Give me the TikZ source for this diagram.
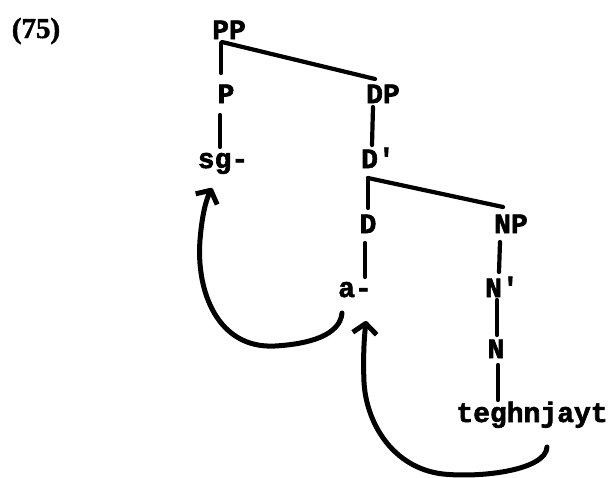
\documentclass[tikz,border=0pt]{standalone}
\usepackage{fontspec}
\newfontfamily\treefont{Liberation Mono}[BoldFeatures={FakeBold=2.2}]
\newfontfamily\exfont{Liberation Serif}[BoldFeatures={FakeBold=1.5}]
\usetikzlibrary{arrows.meta}
\begin{document}
\begin{tikzpicture}[x=1pt,y=-1pt,
  lab/.style={anchor=base,inner sep=0pt,font=\treefont\bfseries\fontsize{28}{28}\selectfont},
  branch/.style={line width=4.2pt,line cap=round},
  move/.style={line width=5pt,line cap=round,-{Straight Barb[length=10pt,width=24pt,line join=round]}}]
\useasboundingbox (0,0) rectangle (609,477);
\node[anchor=base,inner sep=0pt,font=\exfont\bfseries\fontsize{29}{29}\selectfont] (ex) at (36,38) {(75)};
\node[lab] (PP) at (229,39) {PP};
\node[lab] (P) at (226,103) {P};
\node[lab] (sg) at (223,168) {sg-};
\node[lab] (DP) at (383,103) {DP};
\node[lab] (Dbar) at (378,168) {D'};
\node[lab] (D) at (368,233) {D};
\node[lab] (NP) at (511,233) {NP};
\node[lab] (a) at (355,297) {a-};
\node[lab] (Nbar) at (502,297) {N'};
\node[lab] (N) at (496,358) {N};
\node[lab] (t) at (532,422) {teghnjayt};
% branches
\draw[branch] ([shift={(-8,4)}]PP.base) -- ([shift={(-5,-30)}]P.base);
\draw[branch] ([shift={(-7,3)}]PP.base) -- ([shift={(-8,-24)}]DP.base);
\draw[branch] ([shift={(-6,12)}]P.base) -- ([shift={(-3,-21)}]sg.base);
\draw[branch] ([shift={(-10,4)}]DP.base) -- ([shift={(-6,-23)}]Dbar.base);
\draw[branch] ([shift={(-10,10)}]Dbar.base) -- ([shift={(-8,-26)}]NP.base);
\draw[branch] ([shift={(-10,10)}]Dbar.base) -- ([shift={(0,-25)}]D.base);
\draw[branch] ([shift={(-3,10)}]D.base) -- ([shift={(10,-20)}]a.base);
\draw[branch] ([shift={(-11,9)}]NP.base) -- ([shift={(-3,-25)}]Nbar.base);
\draw[branch] ([shift={(-5,3)}]Nbar.base) -- ([shift={(1,-23)}]N.base);
\draw[branch] ([shift={(2,7)}]N.base) -- ([shift={(-34,-22)}]t.base);
% movement arrows
\draw[move] ([shift={(-13,16)}]a.base) .. controls (340,335) and (310,344) .. (275,346)
  .. controls (218,349) and (196,292) .. (200,240)
  .. controls (202,215) and (206,200) .. ([shift={(-11,20)}]sg.base);
\draw[move] ([shift={(15,25)}]t.base) .. controls (546,470) and (482,478) .. (443,474)
  .. controls (392,468) and (366,422) .. (364,382)
  .. controls (363,358) and (364,340) .. ([shift={(11,24)}]a.base);
\end{tikzpicture}
\end{document}
